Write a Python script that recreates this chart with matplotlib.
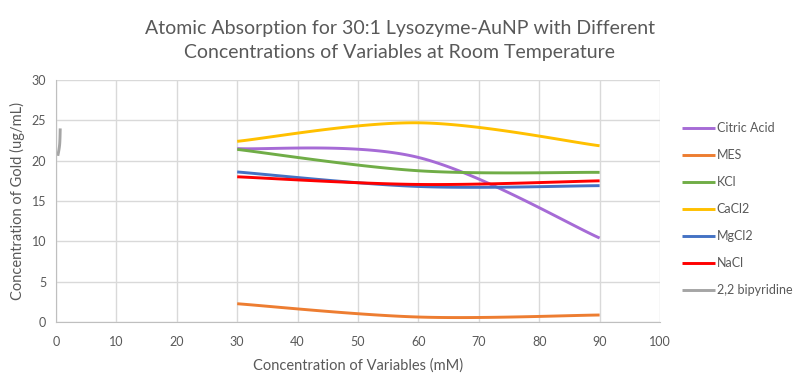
import matplotlib
matplotlib.use("Agg")
import matplotlib.pyplot as plt
import numpy as np

plt.rcParams['font.family'] = ['Lato', 'DejaVu Sans']

conc = [30, 60, 90]
citric = [21.5, 20.4, 10.4]
mes = [2.25, 0.6, 0.85]
kcl = [21.4, 18.75, 18.55]
cacl2 = [22.4, 24.7, 21.85]
mgcl2 = [18.6, 16.8, 16.9]
nacl = [18.0, 17.05, 17.5]
bipy_x = [0.7, 0.6, 0.3]
bipy_y = [24.0, 22.0, 20.6]

names = ["Citric Acid", "MES", "KCl", "CaCl2", "MgCl2", "NaCl", "2,2 bipyridine"]
colors = ["#A66BD6", "#ED7D31", "#70AD47", "#FFC000", "#4472C4", "#FF0000", "#A5A5A5"]


def smooth(x, y, n=60):
    # excel style smoothed line (catmull-rom bezier)
    p = np.column_stack([x, y]).astype(float)
    p = np.vstack([p[0], p, p[-1]])
    out = []
    t = np.linspace(0, 1, n)[:, None]
    for i in range(1, len(p) - 2):
        a, b = p[i], p[i + 1]
        c1 = a + (p[i + 1] - p[i - 1]) / 6
        c2 = b - (p[i + 2] - p[i]) / 6
        seg = (1 - t)**3 * a + 3 * (1 - t)**2 * t * c1 + 3 * (1 - t) * t**2 * c2 + t**3 * b
        out.append(seg)
    out = np.vstack(out)
    return out[:, 0], out[:, 1]


series = [(conc, citric), (conc, mes), (conc, kcl), (conc, cacl2),
          (conc, mgcl2), (conc, nacl), (bipy_x, bipy_y)]

fig = plt.figure(figsize=(8, 3.85), dpi=100)
ax = fig.add_axes([0.07, 0.164, 0.755, 0.628])

for (xs, ys), name, col in zip(series, names, colors):
    sx, sy = smooth(xs, ys)
    ax.plot(sx, sy, color=col, lw=2.1, label=name, solid_capstyle='butt')

ax.set_xlim(0, 100)
ax.set_ylim(0, 30)
ax.set_xticks(range(0, 101, 10))
ax.set_yticks(range(0, 31, 5))
ax.grid(True, color="#D9D9D9", lw=1)
ax.set_axisbelow(True)
for s in ["top", "right"]:
    ax.spines[s].set_visible(False)
for s in ["left", "bottom"]:
    ax.spines[s].set_color("#BFBFBF")
ax.tick_params(length=0, colors="#595959", labelsize=9)
ax.tick_params(axis="x", pad=10)
ax.tick_params(axis="y", pad=7)

ax.set_xlabel("Concentration of Variables (mM)", color="#595959", fontsize=10.5, labelpad=8)
ax.set_ylabel("Concentration of Gold (ug/mL)", color="#595959", fontsize=10.5, labelpad=5)
fig.text(0.5, 0.895, "Atomic Absorption for 30:1 Lysozyme-AuNP with Different\nConcentrations of Variables at Room Temperature",
         color="#595959", fontsize=14, ha="center", va="center", linespacing=1.55)

fig.legend(loc="upper left", bbox_to_anchor=(0.838, 0.712), frameon=False,
           fontsize=9, labelcolor="#595959", handlelength=2.7, handletextpad=0.1,
           labelspacing=1.2)

fig.savefig("out.png", dpi=100)
